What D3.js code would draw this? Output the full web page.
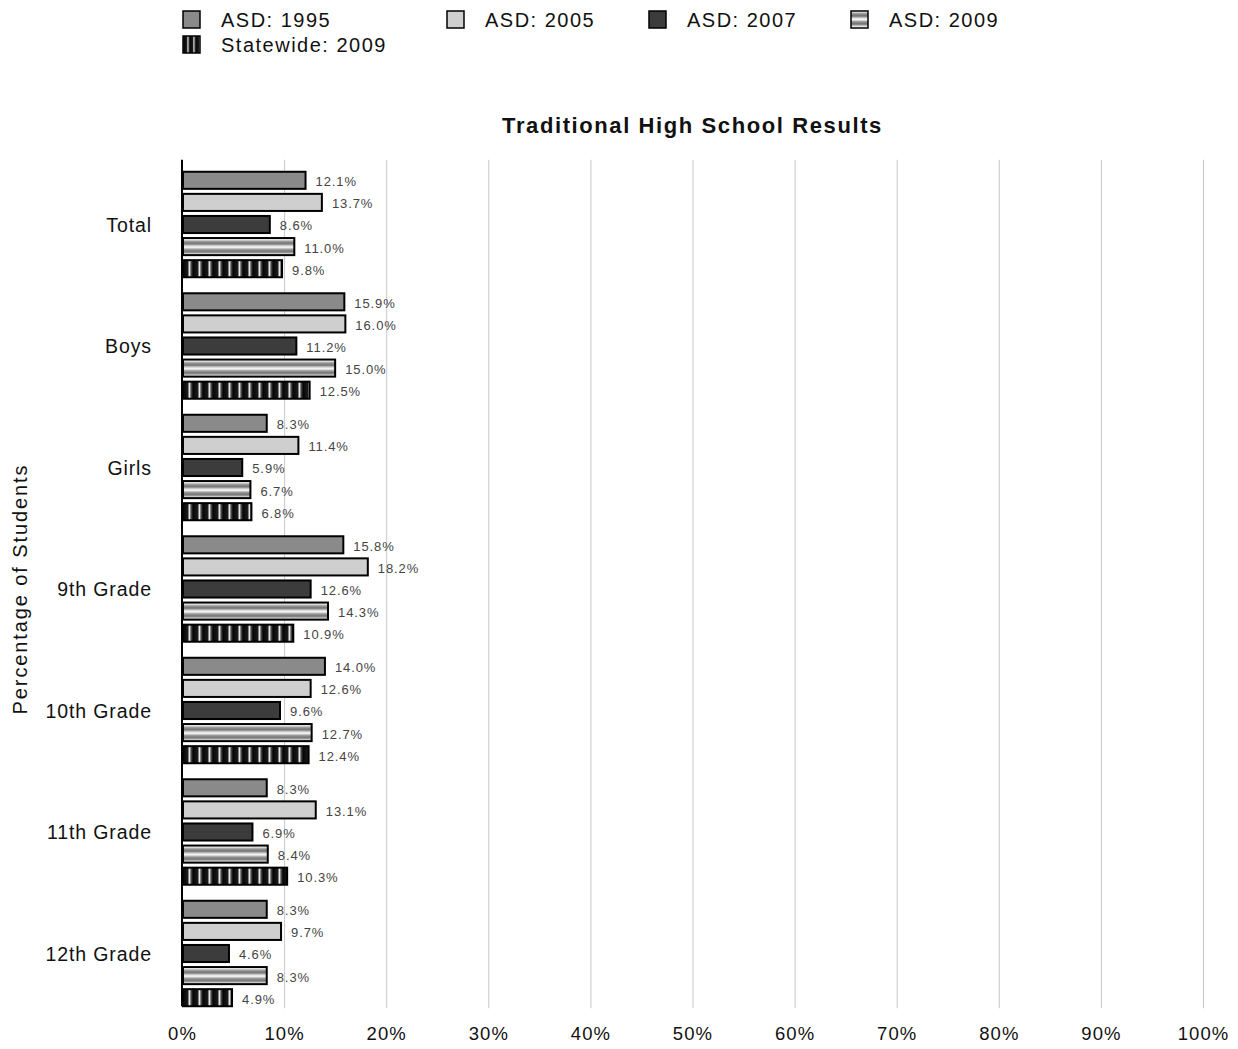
<!DOCTYPE html>
<html>
<head>
<meta charset="UTF-8"/>
<style>
  body { margin: 0; background: #fff; font-family: "Liberation Sans", Arial, Helvetica, sans-serif; }
  svg { display: block; }
  text { fill: #111; }
  .grid line { stroke: #c8c8c8; stroke-width: 1; }
  .grid path { stroke-width: 0; }
  .xaxis path, .xaxis line { display: none; }
  .xaxis text { font-size: 18.5px; fill: #111; letter-spacing: 1.1px; font-family: "Liberation Sans", Arial, sans-serif; }
  .cat { font-size: 19.5px; letter-spacing: 0.9px; }
  .val { font-size: 13px; fill: #444; letter-spacing: 0.9px; }
  .title { font-size: 22px; font-weight: bold; letter-spacing: 1.6px; }
  .ytitle { font-size: 20px; letter-spacing: 1.9px; }
  .leg { font-size: 20px; letter-spacing: 1.5px; }
</style>
</head>
<body>
<svg width="1238" height="1049"></svg>
<script src="https://d3js.org/d3.v7.min.js"></script>
<script>
const categories = ['Total', 'Boys', 'Girls', '9th Grade', '10th Grade', '11th Grade', '12th Grade'];
const seriesNames = ['ASD: 1995', 'ASD: 2005', 'ASD: 2007', 'ASD: 2009', 'Statewide: 2009'];
const asd1995 = [12.1, 15.9, 8.3, 15.8, 14.0, 8.3, 8.3];
const asd2005 = [13.7, 16.0, 11.4, 18.2, 12.6, 13.1, 9.7];
const asd2007 = [8.6, 11.2, 5.9, 12.6, 9.6, 6.9, 4.6];
const asd2009 = [11.0, 15.0, 6.7, 14.3, 12.7, 8.4, 8.3];
const state2009 = [9.8, 12.5, 6.8, 10.9, 12.4, 10.3, 4.9];
const xTicks = [0, 10, 20, 30, 40, 50, 60, 70, 80, 90, 100];

const seriesValues = [asd1995, asd2005, asd2007, asd2009, state2009];
const fills = ['#8a8a8a', '#cfcfcf', '#3c3c3c', 'url(#hstripe)', 'url(#vstripe)'];

const svg = d3.select('svg');
const defs = svg.append('defs');

// horizontal gray/white stripes
const hg = defs.append('linearGradient').attr('id', 'hgrad')
  .attr('x1', 0).attr('y1', 0).attr('x2', 0).attr('y2', 1);
[['0%', '#6e6e6e'], ['25%', '#d8d8d8'], ['45%', '#fafafa'], ['70%', '#9a9a9a'], ['100%', '#6e6e6e']]
  .forEach(s => hg.append('stop').attr('offset', s[0]).attr('stop-color', s[1]));
const hp = defs.append('pattern').attr('id', 'hstripe')
  .attr('patternUnits', 'userSpaceOnUse').attr('width', 20).attr('height', 8);
hp.append('rect').attr('width', 20).attr('height', 8).attr('fill', 'url(#hgrad)');

// vertical black/white stripes
const vg = defs.append('linearGradient').attr('id', 'vgrad')
  .attr('x1', 0).attr('y1', 0).attr('x2', 1).attr('y2', 0);
[['0%', '#050505'], ['45%', '#1a1a1a'], ['65%', '#e6e6e6'], ['80%', '#555'], ['100%', '#050505']]
  .forEach(s => vg.append('stop').attr('offset', s[0]).attr('stop-color', s[1]));
const vp = defs.append('pattern').attr('id', 'vstripe')
  .attr('patternUnits', 'userSpaceOnUse').attr('width', 10).attr('height', 20).attr('x', 183);
vp.append('rect').attr('width', 10).attr('height', 20).attr('fill', 'url(#vgrad)');
const vpl = defs.append('pattern').attr('id', 'vstripeL')
  .attr('patternUnits', 'userSpaceOnUse').attr('width', 6).attr('height', 20).attr('x', 184);
vpl.append('rect').attr('width', 6).attr('height', 20).attr('fill', 'url(#vgrad)');

const mLeft = 182, mRight = 1203, mTop = 163.75, mBottom = 1014.25;

const x = d3.scaleLinear().domain([0, 100]).range([mLeft, mRight]);
const y0 = d3.scaleBand().domain(categories).range([mTop, mBottom]).paddingInner(0).paddingOuter(0);
const y1 = d3.scaleBand().domain(seriesNames).range([3, y0.bandwidth() - 3]).padding(0.227);

// gridlines
svg.append('g').attr('class', 'grid')
  .attr('transform', `translate(0, ${mTop - 4})`)
  .call(d3.axisBottom(x).tickValues(xTicks.slice(1)).tickSize(mBottom - mTop - 2).tickFormat(''));

// x axis labels
svg.append('g').attr('class', 'xaxis')
  .attr('transform', `translate(0, ${mBottom + 7})`)
  .call(d3.axisBottom(x).tickValues(xTicks).tickSize(0).tickPadding(6).tickFormat(d => d + '%'));

// bars
const groups = svg.append('g').selectAll('g')
  .data(categories)
  .join('g')
  .attr('transform', d => `translate(0, ${y0(d)})`);

groups.each(function (cat, ci) {
  const g = d3.select(this);
  seriesNames.forEach((s, si) => {
    const v = seriesValues[si][ci];
    g.append('rect')
      .attr('x', x(0) + 1)
      .attr('y', y1(s))
      .attr('width', x(v) - x(0) - 1)
      .attr('height', y1.bandwidth())
      .attr('fill', fills[si])
      .attr('stroke', '#000')
      .attr('stroke-width', 2);
    g.append('text')
      .attr('class', 'val')
      .attr('x', x(v) + 10)
      .attr('y', y1(s) + y1.bandwidth() / 2 + 1)
      .attr('dy', '0.38em')
      .text(v.toFixed(1) + '%');
  });
  g.append('text')
    .attr('class', 'cat')
    .attr('x', 152)
    .attr('y', y0.bandwidth() / 2)
    .attr('dy', '0.36em')
    .attr('text-anchor', 'end')
    .text(cat);
});

// y axis line
svg.append('line')
  .attr('x1', mLeft).attr('x2', mLeft)
  .attr('y1', mTop - 4).attr('y2', mBottom - 8)
  .attr('stroke', '#000').attr('stroke-width', 2);

// title
svg.append('text').attr('class', 'title')
  .attr('x', (mLeft + mRight) / 2).attr('y', 133)
  .attr('text-anchor', 'middle')
  .text('Traditional High School Results');

svg.append('text').attr('class', 'ytitle')
  .attr('transform', `translate(27, ${(mTop + mBottom) / 2}) rotate(-90)`)
  .attr('text-anchor', 'middle')
  .text('Percentage of Students');

// legend
const legPos = [[182, 10], [446, 10], [648, 10], [850, 10], [182, 35]];
const leg = svg.append('g');
seriesNames.forEach((s, i) => {
  const [lx, ly] = legPos[i];
  leg.append('rect')
    .attr('x', lx + 1).attr('y', ly + 1)
    .attr('width', 17).attr('height', 17)
    .attr('fill', i === 4 ? 'url(#vstripeL)' : fills[i])
    .attr('stroke', '#000').attr('stroke-width', 1.5);
  leg.append('text').attr('class', 'leg')
    .attr('x', lx + 39).attr('y', ly + 9.5)
    .attr('dy', '0.36em')
    .text(s);
});
</script>
</body>
</html>
